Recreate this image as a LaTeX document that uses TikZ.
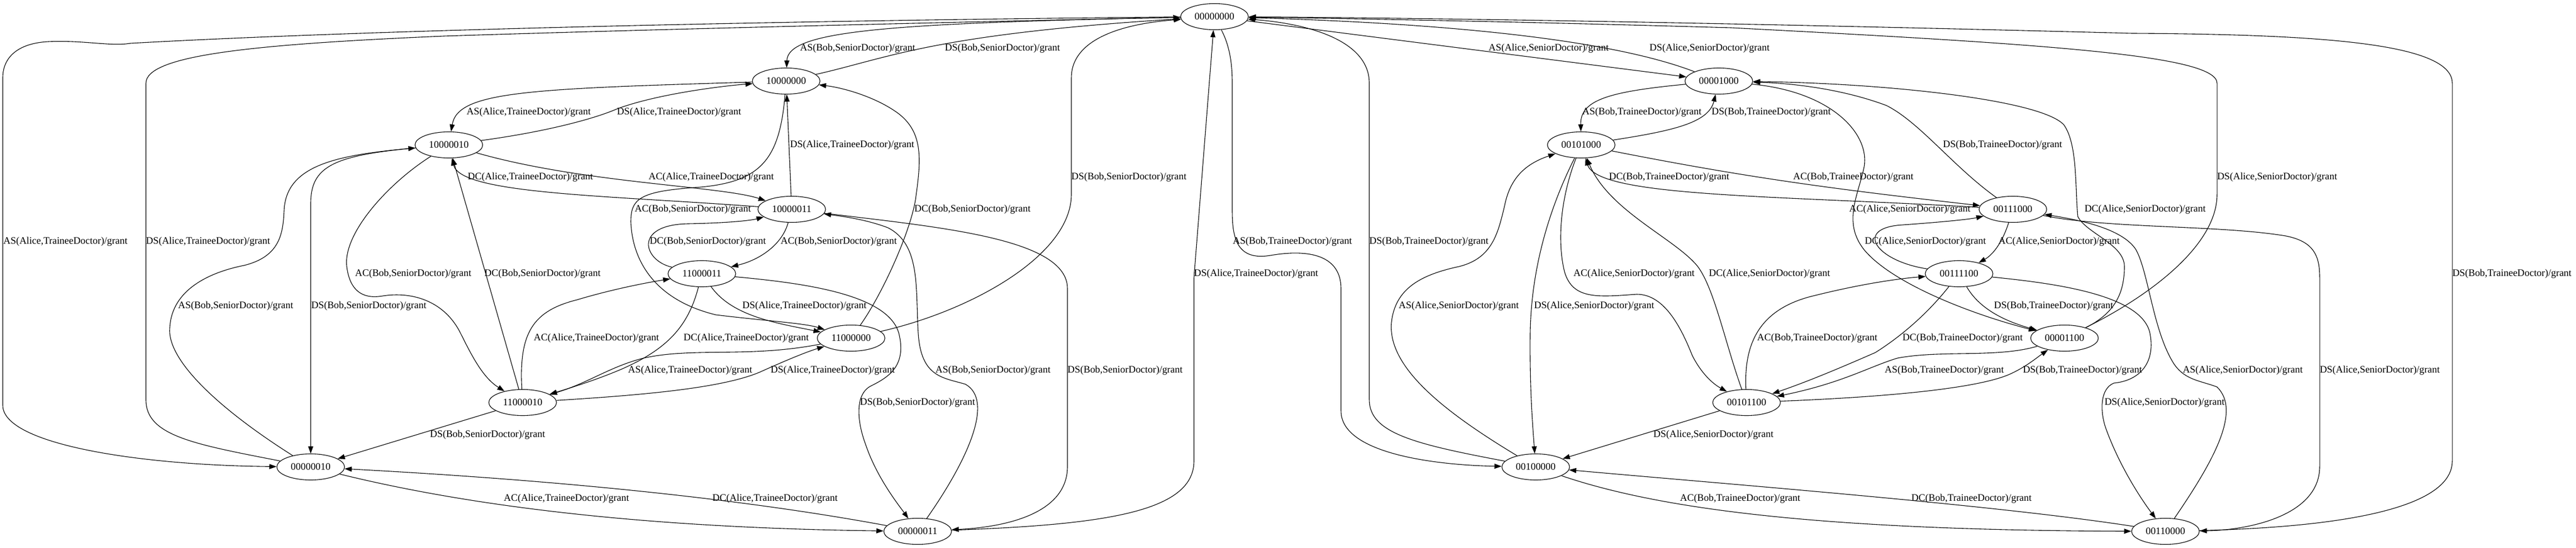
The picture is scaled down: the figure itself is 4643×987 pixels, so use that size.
\documentclass[tikz,border=0pt]{standalone}
\usepackage{fontspec}
\setmainfont{Liberation Serif}
\usetikzlibrary{shapes.geometric,arrows.meta}

\begin{document}
\begin{tikzpicture}[x=1pt,y=-1pt,
  every node/.style={font=\fontsize{17.9}{20}\selectfont},
  state/.style={draw, ellipse, minimum width=122pt, minimum height=47pt, inner sep=0pt, line width=1.1pt},
  lbl/.style={anchor=west, inner sep=0pt}]

  \fill[white] (0,0) rectangle (4643,987);
  \useasboundingbox (0,0) rectangle (4643,987);

  % Zustaende
  \node[state] (s00000000) at (2189,30) {00000000};
  \node[state] (s10000000) at (1417,146) {10000000};
  \node[state] (s10000010) at (809,261) {10000010};
  \node[state] (s10000011) at (1427,377) {10000011};
  \node[state] (s11000011) at (1265,493) {11000011};
  \node[state] (s11000000) at (1534,609) {11000000};
  \node[state] (s11000010) at (942,725) {11000010};
  \node[state] (s00000010) at (560,841) {00000010};
  \node[state] (s00000011) at (1654,957) {00000011};

  \node[state] (s00001000) at (3098,146) {00001000};
  \node[state] (s00101000) at (2850,261) {00101000};
  \node[state] (s00111000) at (3628,377) {00111000};
  \node[state] (s00111100) at (3531,493) {00111100};
  \node[state] (s00001100) at (3721,609) {00001100};
  \node[state] (s00101100) at (3148,725) {00101100};
  \node[state] (s00100000) at (2768,841) {00100000};
  \node[state] (s00110000) at (3903,957) {00110000};

  % linke Haelfte
  \begin{scope}[-{Triangle[length=13pt,width=9pt]}, line width=1.1pt]
    \draw (s00000000) .. controls (1600,42) and (1420,55) .. (s10000000);
    \draw (s10000000) .. controls (1600,105) and (1680,62) .. (s00000000);
    \draw (s00000000) .. controls (1500,36) and (700,52) .. (235,78) .. controls (200,84) and (150,72) .. (87,75) .. controls (30,78) and (5,105) .. (5,140) -- (5,730) .. controls (5,800) and (250,838) .. (s00000010);
    \draw (s00000010) .. controls (350,800) and (263,785) .. (263,720) -- (263,150) .. controls (263,100) and (450,80) .. (800,65) .. controls (1200,52) and (1800,38) .. (s00000000);
    \draw (s10000000) .. controls (950,160) and (825,165) .. (s10000010);
    \draw (s10000010) .. controls (1000,235) and (1080,210) .. (1110,197) .. controls (1180,170) and (1300,155) .. (s10000000);
    \draw (s10000010) .. controls (1050,330) and (1300,335) .. (s10000011);
    \draw (s10000011) .. controls (1100,352) and (830,350) .. (s10000010);
    \draw (s10000011) -- (s10000000);
    \draw (s10000000) .. controls (1405,290) and (1370,330) .. (1250,338) .. controls (1150,345) and (1137,360) .. (1137,400) .. controls (1140,470) and (1180,540) .. (1290,567) .. controls (1380,578) and (1450,582) .. (s11000000);
    \draw (s11000011) .. controls (1160,470) and (1140,405) .. (1240,403) .. controls (1300,402) and (1350,398) .. (s10000011);
    \draw (s10000011) .. controls (1410,440) and (1370,468) .. (s11000011);
    \draw (s11000010) -- (s10000010);
    \draw (s10000010) .. controls (700,330) and (618,420) .. (625,480) .. controls (630,520) and (650,540) .. (690,533) .. controls (740,525) and (800,540) .. (830,600) .. controls (850,640) and (870,680) .. (s11000010);
    \draw (s00000010) .. controls (400,740) and (300,650) .. (306,590) .. controls (310,520) and (380,490) .. (440,478) .. controls (505,462) and (510,420) .. (512,380) .. controls (515,300) and (600,280) .. (s10000010);
    \draw (s10000010) .. controls (600,280) and (560,300) .. (560,367) -- (s00000010);
    \draw (s11000000) .. controls (1590,530) and (1640,420) .. (1650,360) .. controls (1660,290) and (1665,240) .. (1620,205) .. controls (1580,175) and (1520,158) .. (s10000000);
    \draw (s11000000) .. controls (1750,560) and (1931,460) .. (1931,350) -- (1931,140) .. controls (1931,80) and (2000,45) .. (s00000000);
    \draw (s00000011) .. controls (1750,820) and (1790,720) .. (1740,692) .. controls (1700,680) and (1660,680) .. (1655,600) .. controls (1650,520) and (1660,440) .. (1600,410) .. controls (1560,395) and (1520,390) .. (s10000011);
    \draw (s10000011) .. controls (1700,410) and (1924,430) .. (1924,520) -- (1924,840) .. controls (1924,930) and (1800,950) .. (s00000011);
    \draw (s00000011) .. controls (2000,945) and (2152,920) .. (2152,830) -- (2152,500) -- (s00000000);
    \draw (s11000011) .. controls (1450,510) and (1600,530) .. (1620,600) .. controls (1635,660) and (1600,680) .. (1570,695) .. controls (1540,710) and (1545,760) .. (1560,800) .. controls (1580,860) and (1620,910) .. (s00000011);
    \draw (s11000010) .. controls (1150,712) and (1300,700) .. (1370,670) .. controls (1410,652) and (1450,635) .. (s11000000);
    \draw (s11000000) .. controls (1350,645) and (1250,625) .. (1160,645) .. controls (1100,660) and (1060,690) .. (s11000010);
    \draw (s11000010) .. controls (935,600) and (960,560) .. (1040,540) .. controls (1100,522) and (1160,510) .. (s11000011);
    \draw (s11000011) .. controls (1240,590) and (1200,630) .. (1120,665) .. controls (1080,682) and (1040,695) .. (s11000010);
    \draw (s11000011) .. controls (1320,570) and (1400,582) .. (s11000000);
    \draw (s11000010) -- (s00000010);
    \draw (s00000010) .. controls (800,900) and (1100,950) .. (s00000011);
    \draw (s00000011) .. controls (1400,910) and (1100,870) .. (s00000010);
  \end{scope}

  \node[lbl] (l1) at (1442,87) {AS(Bob,SeniorDoctor)/grant};
  \node[lbl] (l2) at (1703,87) {DS(Bob,SeniorDoctor)/grant};
  \node[lbl] (l3) at (6,435) {AS(Alice,TraineeDoctor)/grant};
  \node[lbl] (l4) at (263,435) {DS(Alice,TraineeDoctor)/grant};
  \node[lbl] (l5) at (841,202) {AS(Alice,TraineeDoctor)/grant};
  \node[lbl] (l6) at (1112,202) {DS(Alice,TraineeDoctor)/grant};
  \node[lbl] (l7) at (1169,319) {AC(Alice,TraineeDoctor)/grant};
  \node[lbl] (l8) at (843,319) {DC(Alice,TraineeDoctor)/grant};
  \node[lbl] (l9) at (1424,261) {DS(Alice,TraineeDoctor)/grant};
  \node[lbl] (l10) at (1144,377) {AC(Bob,SeniorDoctor)/grant};
  \node[lbl] (l11) at (1171,435) {DC(Bob,SeniorDoctor)/grant};
  \node[lbl] (l12) at (1407,435) {AC(Bob,SeniorDoctor)/grant};
  \node[lbl] (l13) at (873,493) {DC(Bob,SeniorDoctor)/grant};
  \node[lbl] (l14) at (640,493) {AC(Bob,SeniorDoctor)/grant};
  \node[lbl] (l15) at (321,551) {AS(Bob,SeniorDoctor)/grant};
  \node[lbl] (l16) at (561,551) {DS(Bob,SeniorDoctor)/grant};
  \node[lbl] (l17) at (1648,377) {DC(Bob,SeniorDoctor)/grant};
  \node[lbl] (l18) at (1931,319) {DS(Bob,SeniorDoctor)/grant};
  \node[lbl] (l19) at (1686,667) {AS(Bob,SeniorDoctor)/grant};
  \node[lbl] (l20) at (1924,667) {DS(Bob,SeniorDoctor)/grant};
  \node[lbl] (l21) at (2152,493) {DS(Alice,TraineeDoctor)/grant};
  \node[lbl] (l22) at (1550,725) {DS(Bob,SeniorDoctor)/grant};
  \node[lbl] (l23) at (1389,667) {DS(Alice,TraineeDoctor)/grant};
  \node[lbl] (l24) at (1132,667) {AS(Alice,TraineeDoctor)/grant};
  \node[lbl] (l25) at (962,609) {AC(Alice,TraineeDoctor)/grant};
  \node[lbl] (l26) at (1232,609) {DC(Alice,TraineeDoctor)/grant};
  \node[lbl] (l27) at (1338,551) {DS(Alice,TraineeDoctor)/grant};
  \node[lbl] (l28) at (775,783) {DS(Bob,SeniorDoctor)/grant};
  \node[lbl] (l29) at (908,898) {AC(Alice,TraineeDoctor)/grant};
  \node[lbl] (l30) at (1284,898) {DC(Alice,TraineeDoctor)/grant};

  % rechte Haelfte
  \begin{scope}[-{Triangle[length=13pt,width=9pt]}, line width=1.1pt]
    \draw (s00000000) -- (s00001000);
    \draw (s00001000) .. controls (2900,70) and (2600,42) .. (s00000000);
    \draw (s00000000) .. controls (2215,80) and (2221,110) .. (2221,150) -- (2221,380) .. controls (2221,430) and (2230,470) .. (2290,460) .. controls (2360,448) and (2417,460) .. (2417,520) -- (2417,740) .. controls (2417,820) and (2600,838) .. (s00100000);
    \draw (s00100000) .. controls (2550,800) and (2468,780) .. (2468,720) -- (2468,150) .. controls (2468,70) and (2350,42) .. (s00000000);
    \draw (s00001000) .. controls (2900,165) and (2848,180) .. (s00101000);
    \draw (s00101000) .. controls (3020,235) and (3080,220) .. (s00001000);
    \draw (s00101000) .. controls (3150,320) and (3300,340) .. (s00111000);
    \draw (s00111000) .. controls (3200,352) and (2880,355) .. (s00101000);
    \draw (s00111000) .. controls (3520,300) and (3460,220) .. (3400,190) .. controls (3320,160) and (3230,150) .. (s00001000);
    \draw (s00001000) .. controls (3300,165) and (3370,240) .. (3360,300) .. controls (3350,350) and (3320,400) .. (3360,450) .. controls (3410,510) and (3550,565) .. (s00001100);
    \draw (s00111100) .. controls (3380,470) and (3340,410) .. (3430,405) .. controls (3500,400) and (3550,395) .. (s00111000);
    \draw (s00111000) .. controls (3608,440) and (3590,460) .. (s00111100);
    \draw (s00101100) .. controls (3110,620) and (3090,520) .. (3060,480) .. controls (3020,430) and (2900,380) .. (s00101000);
    \draw (s00101000) .. controls (2815,350) and (2805,430) .. (2820,490) .. controls (2835,540) and (2880,535) .. (2950,530) .. controls (3000,530) and (3030,590) .. (3050,640) .. controls (3065,670) and (3085,690) .. (s00101100);
    \draw (s00100000) .. controls (2600,740) and (2500,660) .. (2508,580) .. controls (2515,520) and (2560,495) .. (2630,480) .. controls (2690,465) and (2700,420) .. (2712,370) .. controls (2722,320) and (2750,295) .. (s00101000);
    \draw (s00101000) .. controls (2800,360) and (2760,470) .. (2758,600) .. controls (2757,700) and (2762,760) .. (s00100000);
    \draw (s00001100) .. controls (3810,565) and (3829,530) .. (3829,480) .. controls (3829,440) and (3760,420) .. (3745,390) .. controls (3740,340) and (3745,260) .. (3720,225) .. controls (3680,180) and (3400,150) .. (s00001000);
    \draw (s00001100) .. controls (3880,530) and (3996,440) .. (3996,350) -- (3996,150) .. controls (3996,100) and (3700,80) .. (3120,50) .. controls (2700,38) and (2400,33) .. (s00000000);
    \draw (s00110000) .. controls (3990,830) and (4040,740) .. (3996,697) .. controls (3965,685) and (3935,685) .. (3915,650) .. controls (3880,590) and (3872,490) .. (3850,450) .. controls (3825,410) and (3740,395) .. (s00111000);
    \draw (s00111000) .. controls (3800,412) and (4000,405) .. (4120,425) .. controls (4170,435) and (4181,460) .. (4181,500) -- (4181,840) .. controls (4181,930) and (4050,955) .. (s00110000);
    \draw (s00110000) .. controls (4200,950) and (4420,920) .. (4420,830) -- (4420,150) .. controls (4420,80) and (4200,62) .. (3843,60) .. controls (3000,38) and (2500,32) .. (s00000000);
    \draw (s00111100) .. controls (3700,510) and (3860,530) .. (3875,600) .. controls (3885,650) and (3860,685) .. (3810,690) .. controls (3785,700) and (3785,740) .. (3795,770) .. controls (3820,840) and (3860,900) .. (s00110000);
    \draw (s00101100) .. controls (3400,715) and (3560,700) .. (3620,675) .. controls (3650,662) and (3670,645) .. (s00001100);
    \draw (s00001100) .. controls (3600,645) and (3500,630) .. (3420,645) .. controls (3370,660) and (3320,690) .. (s00101100);
    \draw (s00101100) .. controls (3143,620) and (3170,560) .. (3260,535) .. controls (3350,512) and (3420,502) .. (s00111100);
    \draw (s00111100) .. controls (3470,570) and (3420,610) .. (3380,635) .. controls (3300,670) and (3250,690) .. (s00101100);
    \draw (s00111100) .. controls (3570,560) and (3620,580) .. (s00001100);
    \draw (s00101100) -- (s00100000);
    \draw (s00100000) .. controls (3000,920) and (3300,955) .. (s00110000);
    \draw (s00110000) .. controls (3600,910) and (3150,875) .. (s00100000);
  \end{scope}

  \node[lbl] (r1) at (2683,87) {AS(Alice,SeniorDoctor)/grant};
  \node[lbl] (r2) at (2973,87) {DS(Alice,SeniorDoctor)/grant};
  \node[lbl] (r3) at (2222,435) {AS(Bob,TraineeDoctor)/grant};
  \node[lbl] (r4) at (2468,435) {DS(Bob,TraineeDoctor)/grant};
  \node[lbl] (r5) at (2852,202) {AS(Bob,TraineeDoctor)/grant};
  \node[lbl] (r6) at (3085,202) {DS(Bob,TraineeDoctor)/grant};
  \node[lbl] (r7) at (3232,319) {AC(Bob,TraineeDoctor)/grant};
  \node[lbl] (r8) at (2900,319) {DC(Bob,TraineeDoctor)/grant};
  \node[lbl] (r9) at (3502,261) {DS(Bob,TraineeDoctor)/grant};
  \node[lbl] (r10) at (3333,377) {AC(Alice,SeniorDoctor)/grant};
  \node[lbl] (r11) at (3361,435) {DC(Alice,SeniorDoctor)/grant};
  \node[lbl] (r12) at (3602,435) {AC(Alice,SeniorDoctor)/grant};
  \node[lbl] (r13) at (3080,493) {DC(Alice,SeniorDoctor)/grant};
  \node[lbl] (r14) at (2836,493) {AC(Alice,SeniorDoctor)/grant};
  \node[lbl] (r15) at (2521,551) {AS(Alice,SeniorDoctor)/grant};
  \node[lbl] (r16) at (2765,551) {DS(Alice,SeniorDoctor)/grant};
  \node[lbl] (r17) at (3757,377) {DC(Alice,SeniorDoctor)/grant};
  \node[lbl] (r18) at (3996,319) {DS(Alice,SeniorDoctor)/grant};
  \node[lbl] (r19) at (3934,667) {AS(Alice,SeniorDoctor)/grant};
  \node[lbl] (r20) at (4181,667) {DS(Alice,SeniorDoctor)/grant};
  \node[lbl] (r21) at (4420,493) {DS(Bob,TraineeDoctor)/grant};
  \node[lbl] (r22) at (3793,725) {DS(Alice,SeniorDoctor)/grant};
  \node[lbl] (r23) at (3646,667) {DS(Bob,TraineeDoctor)/grant};
  \node[lbl] (r24) at (3397,667) {AS(Bob,TraineeDoctor)/grant};
  \node[lbl] (r25) at (3167,609) {AC(Bob,TraineeDoctor)/grant};
  \node[lbl] (r26) at (3429,609) {DC(Bob,TraineeDoctor)/grant};
  \node[lbl] (r27) at (3594,551) {DS(Bob,TraineeDoctor)/grant};
  \node[lbl] (r28) at (2980,783) {DS(Alice,SeniorDoctor)/grant};
  \node[lbl] (r29) at (3028,898) {AC(Bob,TraineeDoctor)/grant};
  \node[lbl] (r30) at (3445,898) {DC(Bob,TraineeDoctor)/grant};

\end{tikzpicture}
\end{document}
